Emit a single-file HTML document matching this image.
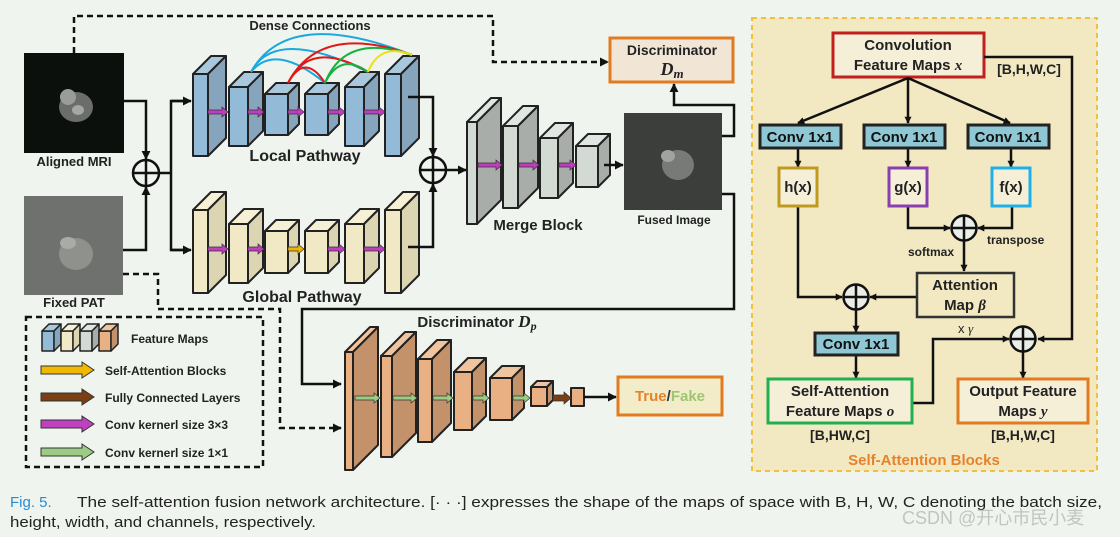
<!DOCTYPE html>
<html><head><meta charset="utf-8"><style>
html,body{margin:0;padding:0;background:#eff5ee;}
svg{display:block;}
text{font-family:"Liberation Sans",sans-serif;}
.b{font-weight:bold;}
.s{font-family:"Liberation Serif",serif !important;font-style:italic;}
</style></head><body>
<svg width="1120" height="537" viewBox="0 0 1120 537" xmlns="http://www.w3.org/2000/svg">
<defs>
<marker id="ah" viewBox="0 0 10 10" refX="9" refY="5" markerWidth="7" markerHeight="7" markerUnits="userSpaceOnUse" orient="auto"><path d="M0,0 L10,5 L0,10 z" fill="#111"/></marker>
<marker id="ah2" viewBox="0 0 10 10" refX="9" refY="5" markerWidth="9" markerHeight="9" markerUnits="userSpaceOnUse" orient="auto"><path d="M0,0 L10,5 L0,10 z" fill="#111"/></marker>
</defs>
<rect width="1120" height="537" fill="#eff5ee"/>

<!-- images -->
<rect x="24" y="53" width="100" height="100" fill="#0c100c"/>
<ellipse cx="76" cy="107" rx="17" ry="15" fill="#6a6d6a"/>
<ellipse cx="68" cy="97" rx="8" ry="8" fill="#9a9c9a"/>
<ellipse cx="78" cy="110" rx="6" ry="5" fill="#a5a7a5"/>
<text x="74" y="166" class="b" font-size="13" text-anchor="middle" fill="#222">Aligned MRI</text>
<rect x="24" y="196" width="99" height="99" fill="#6e716d"/>
<ellipse cx="76" cy="254" rx="17" ry="16" fill="#8e918c"/>
<ellipse cx="68" cy="243" rx="8" ry="6" fill="#a8aba6"/>
<text x="74" y="307" class="b" font-size="13" text-anchor="middle" fill="#222">Fixed PAT</text>

<polyline points="74,53 74,16 493,16 493,62 608,62" fill="none" stroke="#111" stroke-width="2.5" stroke-dasharray="6,4" marker-end="url(#ah2)"/>
<polyline points="123,274 158,274 158,309 280,309 280,428 341,428" fill="none" stroke="#111" stroke-width="2.5" stroke-dasharray="6,4" marker-end="url(#ah2)"/>

<g fill="none" stroke="#111" stroke-width="2.5">
<polyline points="124,101 146,101 146,159" marker-end="url(#ah2)"/>
<polyline points="123,250 146,250 146,187" marker-end="url(#ah2)"/>
<line x1="159" y1="173" x2="171" y2="173"/>
<polyline points="188,101 171,101 171,250 188,250"/>
<line x1="171" y1="101" x2="191" y2="101" marker-end="url(#ah2)"/>
<line x1="171" y1="250" x2="191" y2="250" marker-end="url(#ah2)"/>
<circle cx="146" cy="173" r="13" fill="#eff5ee"/>
<line x1="133" y1="173" x2="159" y2="173"/><line x1="146" y1="160" x2="146" y2="186"/>
</g>

<g stroke="#222" stroke-width="2" stroke-linejoin="round">
<rect x="193" y="74" width="15" height="82" fill="#93bad6"/><polygon points="193,74 211,56 226,56 208,74" fill="#a9c8de"/><polygon points="208,74 226,56 226,138 208,156" fill="#86a5bd"/>
<rect x="229" y="87" width="19" height="59" fill="#93bad6"/><polygon points="229,87 244,72 263,72 248,87" fill="#a9c8de"/><polygon points="248,87 263,72 263,131 248,146" fill="#86a5bd"/>
<rect x="265" y="94" width="23" height="41" fill="#93bad6"/><polygon points="265,94 276,83 299,83 288,94" fill="#a9c8de"/><polygon points="288,94 299,83 299,124 288,135" fill="#86a5bd"/>
<rect x="305" y="94" width="23" height="41" fill="#93bad6"/><polygon points="305,94 316,83 339,83 328,94" fill="#a9c8de"/><polygon points="328,94 339,83 339,124 328,135" fill="#86a5bd"/>
<rect x="345" y="87" width="19" height="59" fill="#93bad6"/><polygon points="345,87 360,72 379,72 364,87" fill="#a9c8de"/><polygon points="364,87 379,72 379,131 364,146" fill="#86a5bd"/>
<rect x="385" y="74" width="16" height="82" fill="#93bad6"/><polygon points="385,74 403,56 419,56 401,74" fill="#a9c8de"/><polygon points="401,74 419,56 419,138 401,156" fill="#86a5bd"/>
</g>
<g fill="none" stroke-width="2">
<path d="M251,72 Q288,6 412,55" stroke="#1aa8e0"/>
<path d="M251,72 Q275,26 368,72" stroke="#1aa8e0"/>
<path d="M251,72 Q275,42 325,83" stroke="#1aa8e0"/>
<path d="M288,83 Q320,22 412,55" stroke="#e01818"/>
<path d="M288,83 Q310,38 368,72" stroke="#e01818"/>
<path d="M288,83 Q305,52 325,83" stroke="#e01818"/>
<path d="M325,83 Q345,32 412,55" stroke="#18b040"/>
<path d="M325,83 Q340,52 368,72" stroke="#18b040"/>
<path d="M368,72 Q380,42 412,55" stroke="#f0e010"/>
</g>
<text x="310" y="30" class="b" font-size="13" text-anchor="middle" fill="#222">Dense Connections</text>
<text x="305" y="161" class="b" font-size="16" text-anchor="middle" fill="#222">Local Pathway</text>

<g stroke="#222" stroke-width="2" stroke-linejoin="round">
<rect x="193" y="210" width="15" height="83" fill="#f1e9c5"/><polygon points="193,210 211,192 226,192 208,210" fill="#f6f0d4"/><polygon points="208,210 226,192 226,275 208,293" fill="#dcd5b2"/>
<rect x="229" y="224" width="19" height="59" fill="#f1e9c5"/><polygon points="229,224 244,209 263,209 248,224" fill="#f6f0d4"/><polygon points="248,224 263,209 263,268 248,283" fill="#dcd5b2"/>
<rect x="265" y="231" width="23" height="42" fill="#f1e9c5"/><polygon points="265,231 276,220 299,220 288,231" fill="#f6f0d4"/><polygon points="288,231 299,220 299,262 288,273" fill="#dcd5b2"/>
<rect x="305" y="231" width="23" height="42" fill="#f1e9c5"/><polygon points="305,231 316,220 339,220 328,231" fill="#f6f0d4"/><polygon points="328,231 339,220 339,262 328,273" fill="#dcd5b2"/>
<rect x="345" y="224" width="19" height="59" fill="#f1e9c5"/><polygon points="345,224 360,209 379,209 364,224" fill="#f6f0d4"/><polygon points="364,224 379,209 379,268 364,283" fill="#dcd5b2"/>
<rect x="385" y="210" width="16" height="83" fill="#f1e9c5"/><polygon points="385,210 403,192 419,192 401,210" fill="#f6f0d4"/><polygon points="401,210 419,192 419,275 401,293" fill="#dcd5b2"/>
</g>
<text x="302" y="302" class="b" font-size="16" text-anchor="middle" fill="#222">Global Pathway</text>

<g stroke="#333" stroke-width="0.7">
<polygon points="208,110 222,110 222,107 228,112 222,117 222,114 208,114" fill="#c03cc0"/>
<polygon points="248,110 258,110 258,107 264,112 258,117 258,114 248,114" fill="#c03cc0"/>
<polygon points="288,110 298,110 298,107 304,112 298,117 298,114 288,114" fill="#c03cc0"/>
<polygon points="328,110 339,110 339,107 345,112 339,117 339,114 328,114" fill="#c03cc0"/>
<polygon points="364,110 379,110 379,107 385,112 379,117 379,114 364,114" fill="#c03cc0"/>
<polygon points="208,247 222,247 222,244 228,249 222,254 222,251 208,251" fill="#c03cc0"/>
<polygon points="248,247 258,247 258,244 264,249 258,254 258,251 248,251" fill="#c03cc0"/>
<polygon points="288,247 298,247 298,244 304,249 298,254 298,251 288,251" fill="#f0b400"/>
<polygon points="328,247 339,247 339,244 345,249 339,254 339,251 328,251" fill="#c03cc0"/>
<polygon points="364,247 379,247 379,244 385,249 379,254 379,251 364,251" fill="#c03cc0"/>
</g>

<g fill="none" stroke="#111" stroke-width="2.5">
<polyline points="408,97 433,97 433,156" marker-end="url(#ah2)"/>
<polyline points="408,247 433,247 433,184" marker-end="url(#ah2)"/>
<line x1="446" y1="170" x2="466" y2="170" marker-end="url(#ah2)"/>
<circle cx="433" cy="170" r="13" fill="#eff5ee"/>
<line x1="420" y1="170" x2="446" y2="170"/><line x1="433" y1="157" x2="433" y2="183"/>
</g>

<g stroke="#222" stroke-width="2" stroke-linejoin="round">
<rect x="467" y="122" width="10" height="102" fill="#d3d9d3"/><polygon points="467,122 491,98 501,98 477,122" fill="#e2e6e2"/><polygon points="477,122 501,98 501,200 477,224" fill="#a9ada9"/>
<rect x="503" y="126" width="15" height="82" fill="#d3d9d3"/><polygon points="503,126 523,106 538,106 518,126" fill="#e2e6e2"/><polygon points="518,126 538,106 538,188 518,208" fill="#a9ada9"/>
<rect x="540" y="138" width="18" height="60" fill="#d3d9d3"/><polygon points="540,138 555,123 573,123 558,138" fill="#e2e6e2"/><polygon points="558,138 573,123 573,183 558,198" fill="#a9ada9"/>
<rect x="576" y="146" width="22" height="41" fill="#d3d9d3"/><polygon points="576,146 588,134 610,134 598,146" fill="#e2e6e2"/><polygon points="598,146 610,134 610,175 598,187" fill="#a9ada9"/>
</g>
<g stroke="#333" stroke-width="0.7">
<polygon points="478,163 496,163 496,160 502,165 496,170 496,167 478,167" fill="#c03cc0"/>
<polygon points="519,163 533,163 533,160 539,165 533,170 533,167 519,167" fill="#c03cc0"/>
<polygon points="559,163 570,163 570,160 576,165 570,170 570,167 559,167" fill="#c03cc0"/>
</g>
<line x1="604" y1="165" x2="623" y2="165" stroke="#111" stroke-width="2.5" marker-end="url(#ah2)"/>
<text x="538" y="230" class="b" font-size="15" text-anchor="middle" fill="#222">Merge Block</text>

<rect x="624" y="113" width="98" height="97" fill="#3b3e3b"/>
<ellipse cx="678" cy="165" rx="16" ry="15" fill="#777a76"/>
<ellipse cx="668" cy="156" rx="7" ry="6" fill="#a0a39f"/>
<text x="674" y="224" class="b" font-size="12" text-anchor="middle" fill="#222">Fused Image</text>

<polyline points="722,136 734,136 734,105 674,105 674,84" fill="none" stroke="#111" stroke-width="2.5" marker-end="url(#ah2)"/>
<rect x="610" y="38" width="123" height="44" fill="#f1e6d6" stroke="#e07b22" stroke-width="3"/>
<text x="672" y="55" class="b" font-size="14" text-anchor="middle" fill="#222">Discriminator</text>
<text x="672" y="75" class="b s" font-size="18" text-anchor="middle" fill="#222">D<tspan font-size="13" dy="3">m</tspan></text>

<polyline points="722,194 734,194 734,309 302,309 302,384 341,384" fill="none" stroke="#111" stroke-width="2.5" marker-end="url(#ah2)"/>
<text x="477" y="327" class="b" font-size="15" text-anchor="middle" fill="#222">Discriminator <tspan class="s" font-size="17">D</tspan><tspan class="s" font-size="12" dy="3">p</tspan></text>

<g stroke="#222" stroke-width="2" stroke-linejoin="round">
<rect x="345" y="352" width="8" height="118" fill="#e9b183"/><polygon points="345,352 370,327 378,327 353,352" fill="#f0c49e"/><polygon points="353,352 378,327 378,445 353,470" fill="#c4926a"/>
<rect x="381" y="356" width="11" height="101" fill="#e9b183"/><polygon points="381,356 405,332 416,332 392,356" fill="#f0c49e"/><polygon points="392,356 416,332 416,433 392,457" fill="#c4926a"/>
<rect x="418" y="359" width="14" height="83" fill="#e9b183"/><polygon points="418,359 437,340 451,340 432,359" fill="#f0c49e"/><polygon points="432,359 451,340 451,423 432,442" fill="#c4926a"/>
<rect x="454" y="372" width="18" height="58" fill="#e9b183"/><polygon points="454,372 468,358 486,358 472,372" fill="#f0c49e"/><polygon points="472,372 486,358 486,416 472,430" fill="#c4926a"/>
<rect x="490" y="378" width="22" height="42" fill="#e9b183"/><polygon points="490,378 502,366 524,366 512,378" fill="#f0c49e"/><polygon points="512,378 524,366 524,408 512,420" fill="#c4926a"/>
<rect x="531" y="387" width="16" height="19" fill="#e9b183"/><polygon points="531,387 537,381 553,381 547,387" fill="#f0c49e"/><polygon points="547,387 553,381 553,400 547,406" fill="#c4926a"/>
<rect x="571" y="388" width="13" height="18" fill="#e9b183"/>
</g>
<g stroke="#333" stroke-width="0.7">
<polygon points="355,396 374,396 374,393 380,398 374,403 374,400 355,400" fill="#9ccc84"/>
<polygon points="393,396 411,396 411,393 417,398 411,403 411,400 393,400" fill="#9ccc84"/>
<polygon points="433,396 447,396 447,393 453,398 447,403 447,400 433,400" fill="#9ccc84"/>
<polygon points="473,396 483,396 483,393 489,398 483,403 483,400 473,400" fill="#9ccc84"/>
<polygon points="513,396 524,396 524,393 530,398 524,403 524,400 513,400" fill="#9ccc84"/>
<polygon points="553,395 564,395 564,392 571,398 564,404 564,401 553,401" fill="#7a3f15"/>
</g>
<line x1="584" y1="397" x2="616" y2="397" stroke="#111" stroke-width="2.5" marker-end="url(#ah2)"/>
<rect x="618" y="377" width="104" height="38" fill="#f3ecc8" stroke="#e07b22" stroke-width="3"/>
<text x="670" y="401" class="b" font-size="15" text-anchor="middle"><tspan fill="#e8822a">True</tspan><tspan fill="#333">/</tspan><tspan fill="#9cc66f">Fake</tspan></text>

<rect x="26" y="317" width="237" height="150" fill="none" stroke="#111" stroke-width="2.5" stroke-dasharray="6,4"/>
<g stroke="#222" stroke-width="1.5" stroke-linejoin="round">
<rect x="42" y="331" width="12" height="20" fill="#93bad6"/><polygon points="42,331 49,324 61,324 54,331" fill="#a9c8de"/><polygon points="54,331 61,324 61,344 54,351" fill="#86a5bd"/>
<rect x="61" y="331" width="12" height="20" fill="#f1e9c5"/><polygon points="61,331 68,324 80,324 73,331" fill="#f6f0d4"/><polygon points="73,331 80,324 80,344 73,351" fill="#dcd5b2"/>
<rect x="80" y="331" width="12" height="20" fill="#d3d9d3"/><polygon points="80,331 87,324 99,324 92,331" fill="#e2e6e2"/><polygon points="92,331 99,324 99,344 92,351" fill="#a9ada9"/>
<rect x="99" y="331" width="12" height="20" fill="#e9b183"/><polygon points="99,331 106,324 118,324 111,331" fill="#f0c49e"/><polygon points="111,331 118,324 118,344 111,351" fill="#c4926a"/>
</g>
<g stroke="#333" stroke-width="1">
<polygon points="41,366 82,366 82,362 94,370 82,378 82,374 41,374" fill="#f0b800"/>
<polygon points="41,393 82,393 82,389 94,397 82,405 82,401 41,401" fill="#7a3f15"/>
<polygon points="41,420 82,420 82,416 94,424 82,432 82,428 41,428" fill="#c040c0"/>
<polygon points="41,448 82,448 82,444 94,452 82,460 82,456 41,456" fill="#9ccc84"/>
</g>
<g class="b" font-size="12" fill="#222">
<text x="131" y="343">Feature Maps</text>
<text x="105" y="375">Self-Attention Blocks</text>
<text x="105" y="402">Fully Connected Layers</text>
<text x="105" y="429">Conv kernerl size 3×3</text>
<text x="105" y="457">Conv kernerl size 1×1</text>
</g>

<rect x="752" y="18" width="345" height="453" fill="#f2e9c2" stroke="#f0c040" stroke-width="2" stroke-dasharray="5,4"/>
<rect x="833" y="33" width="151" height="44" fill="#f6efd8" stroke="#c0201e" stroke-width="3"/>
<text x="908" y="50" class="b" font-size="15" text-anchor="middle" fill="#222">Convolution</text>
<text x="908" y="70" class="b" font-size="15" text-anchor="middle" fill="#222">Feature Maps <tspan class="s">x</tspan></text>
<text x="1029" y="74" class="b" font-size="14" text-anchor="middle" fill="#222">[B,H,W,C]</text>
<g fill="none" stroke="#111" stroke-width="2.5">
<polyline points="984,57 1072,57 1072,339 1038,339" marker-end="url(#ah)"/>
<line x1="908" y1="78" x2="798" y2="123" marker-end="url(#ah)"/>
<line x1="908" y1="78" x2="908" y2="123" marker-end="url(#ah)"/>
<line x1="908" y1="78" x2="1010" y2="123" marker-end="url(#ah)"/>
<line x1="798" y1="148" x2="798" y2="167" marker-end="url(#ah)"/>
<line x1="908" y1="148" x2="908" y2="167" marker-end="url(#ah)"/>
<line x1="1011" y1="148" x2="1011" y2="167" marker-end="url(#ah)"/>
<polyline points="908,206 908,228 950,228" marker-end="url(#ah)"/>
<polyline points="1012,206 1012,228 978,228" marker-end="url(#ah)"/>
<line x1="964" y1="241" x2="964" y2="271" marker-end="url(#ah)"/>
<line x1="917" y1="297" x2="870" y2="297" marker-end="url(#ah)"/>
<polyline points="798,206 798,297 842,297" marker-end="url(#ah)"/>
<line x1="856" y1="310" x2="856" y2="332" marker-end="url(#ah)"/>
<line x1="856" y1="355" x2="856" y2="378" marker-end="url(#ah)"/>
<polyline points="912,403 933,403 933,339 1009,339" marker-end="url(#ah)"/>
<line x1="1023" y1="352" x2="1023" y2="378" marker-end="url(#ah)"/>
</g>
<g fill="#8fc8d4" stroke="#222" stroke-width="3">
<rect x="760" y="125" width="81" height="23"/>
<rect x="864" y="125" width="81" height="23"/>
<rect x="968" y="125" width="81" height="23"/>
<rect x="815" y="333" width="83" height="22"/>
</g>
<g class="b" font-size="15" text-anchor="middle" fill="#111">
<text x="800" y="142">Conv 1x1</text>
<text x="904" y="142">Conv 1x1</text>
<text x="1008" y="142">Conv 1x1</text>
<text x="856" y="349">Conv 1x1</text>
</g>
<rect x="779" y="168" width="38" height="38" fill="#f6efd8" stroke="#c09a20" stroke-width="3"/>
<rect x="889" y="168" width="38" height="38" fill="#f6efd8" stroke="#8a3fb0" stroke-width="3"/>
<rect x="992" y="168" width="38" height="38" fill="#f6efd8" stroke="#20b0e8" stroke-width="3"/>
<g class="b" font-size="15" text-anchor="middle" fill="#222">
<text x="798" y="192">h(x)</text><text x="908" y="192">g(x)</text><text x="1011" y="192">f(x)</text>
</g>
<g fill="#e9eee6" stroke="#111" stroke-width="2.5">
<circle cx="964" cy="228" r="12.5"/><circle cx="856" cy="297" r="12.5"/><circle cx="1023" cy="339" r="12.5"/>
</g>
<g stroke="#111" stroke-width="2.5">
<line x1="951.5" y1="228" x2="976.5" y2="228"/><line x1="964" y1="215.5" x2="964" y2="240.5"/>
<line x1="843.5" y1="297" x2="868.5" y2="297"/><line x1="856" y1="284.5" x2="856" y2="309.5"/>
<line x1="1010.5" y1="339" x2="1035.5" y2="339"/><line x1="1023" y1="326.5" x2="1023" y2="351.5"/>
</g>
<text x="987" y="244" class="b" font-size="12" fill="#222">transpose</text>
<text x="908" y="256" class="b" font-size="12" fill="#222">softmax</text>
<rect x="917" y="273" width="97" height="44" fill="#f2e9c2" stroke="#333" stroke-width="2.5"/>
<text x="965" y="290" class="b" font-size="15" text-anchor="middle" fill="#222">Attention</text>
<text x="965" y="310" class="b" font-size="15" text-anchor="middle" fill="#222">Map <tspan class="s">β</tspan></text>
<text x="958" y="333" font-size="13" fill="#222">x <tspan class="s">γ</tspan></text>
<rect x="768" y="379" width="144" height="44" fill="#f6efd8" stroke="#20b050" stroke-width="3"/>
<text x="840" y="396" class="b" font-size="15" text-anchor="middle" fill="#222">Self-Attention</text>
<text x="840" y="416" class="b" font-size="15" text-anchor="middle" fill="#222">Feature Maps <tspan class="s">o</tspan></text>
<text x="840" y="440" class="b" font-size="14" text-anchor="middle" fill="#222">[B,HW,C]</text>
<rect x="958" y="379" width="130" height="44" fill="#f6efd8" stroke="#e07b22" stroke-width="3"/>
<text x="1023" y="396" class="b" font-size="15" text-anchor="middle" fill="#222">Output Feature</text>
<text x="1023" y="416" class="b" font-size="15" text-anchor="middle" fill="#222">Maps <tspan class="s">y</tspan></text>
<text x="1023" y="440" class="b" font-size="14" text-anchor="middle" fill="#222">[B,H,W,C]</text>
<text x="924" y="465" class="b" font-size="15" text-anchor="middle" fill="#e8822a">Self-Attention Blocks</text>

<text x="10" y="507" font-size="15" fill="#2a8ad4">Fig. 5.</text>
<text x="77" y="507" font-size="15" fill="#222" textLength="1025" lengthAdjust="spacingAndGlyphs">The self-attention fusion network architecture. [· · ·] expresses the shape of the maps of space with B, H, W, C denoting the batch size,</text>
<text x="10" y="527" font-size="15" fill="#222" textLength="306" lengthAdjust="spacingAndGlyphs">height, width, and channels, respectively.</text>
<text x="902" y="524" font-size="18" fill="#b8bcb8" fill-opacity="0.85" style="font-family:'Liberation Sans','Noto Sans CJK SC',sans-serif">CSDN @开心市民小麦</text>
</svg>
</body></html>
